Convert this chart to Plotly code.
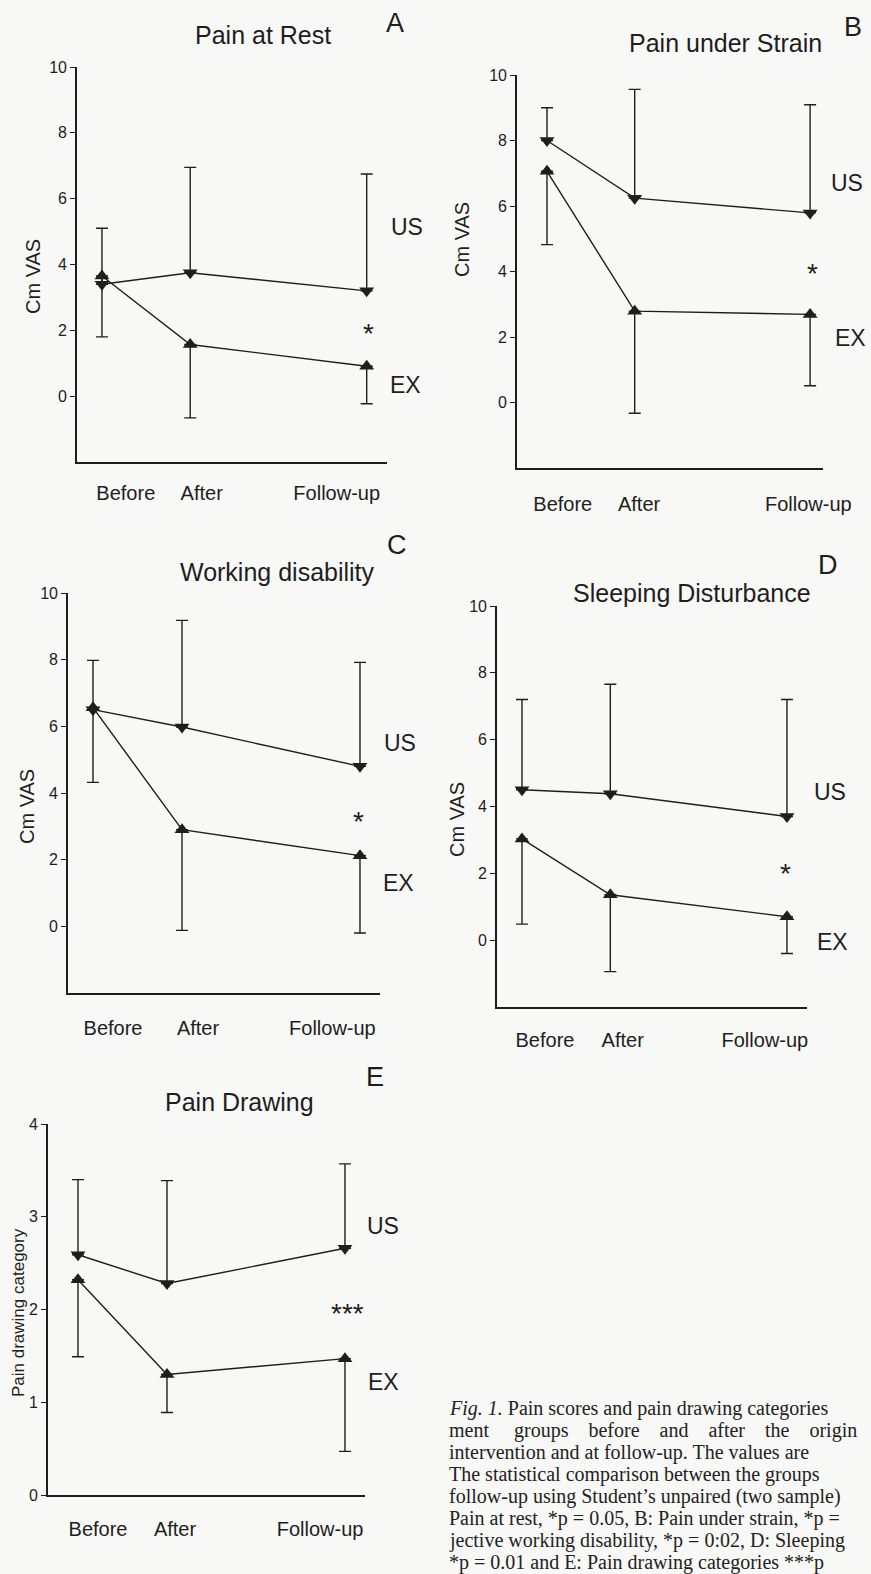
import plotly.graph_objects as go

W, H = 871, 1574

# ---------------- data ----------------
categories = ["Before", "After", "Follow-up"]
timepoints = [0, 1, 3]

# A: Pain at Rest
rest_us = [3.4, 3.75, 3.2]
rest_us_sd = [1.7, 3.2, 3.55]
rest_ex = [3.65, 1.57, 0.91]
rest_ex_sd = [1.85, 2.23, 1.14]

# B: Pain under Strain
strain_us = [8.0, 6.24, 5.79]
strain_us_sd = [1.0, 3.32, 3.3]
strain_ex = [7.06, 2.79, 2.69]
strain_ex_sd = [2.24, 3.12, 2.18]

# C: Working disability
work_us = [6.5, 5.98, 4.8]
work_us_sd = [1.48, 3.2, 3.12]
work_ex = [6.56, 2.9, 2.12]
work_ex_sd = [2.24, 3.02, 2.32]

# D: Sleeping Disturbance
sleep_us = [4.5, 4.38, 3.7]
sleep_us_sd = [2.7, 3.28, 3.5]
sleep_ex = [3.03, 1.36, 0.7]
sleep_ex_sd = [2.55, 2.3, 1.1]

# E: Pain Drawing
draw_us = [2.59, 2.28, 2.66]
draw_us_sd = [0.81, 1.11, 0.91]
draw_ex = [2.32, 1.30, 1.47]
draw_ex_sd = [0.83, 0.41, 1.0]

panel_titles = ["Pain at Rest", "Pain under Strain", "Working disability",
                "Sleeping Disturbance", "Pain Drawing"]
panel_letters = ["A", "B", "C", "D", "E"]
y_titles = ["Cm VAS", "Cm VAS", "Cm VAS", "Cm VAS", "Pain drawing category"]
significance = ["*", "*", "*", "*", "***"]
group_labels = ["US", "EX"]
vas_ticks = [0, 2, 4, 6, 8, 10]
drawing_ticks = [0, 1, 2, 3, 4]

NB = "\u00a0"
caption_lines = [
    "<i>Fig. 1.</i> Pain scores and pain drawing categories",
    ("ment" + NB * 4 + " groups" + NB * 3 + " before" + NB * 3 + " and" + NB * 3
     + " after" + NB * 3 + " the" + NB * 3 + " origin"),
    "intervention and at follow-up. The values are",
    "The statistical comparison between the groups",
    "follow-up using Student\u2019s unpaired (two sample)",
    "Pain at rest, *p = 0.05, B: Pain under strain, *p =",
    "jective working disability, *p = 0:02, D: Sleeping",
    "*p = 0.01 and E: Pain drawing categories ***p",
]

series = [
    (rest_us, rest_us_sd, rest_ex, rest_ex_sd),
    (strain_us, strain_us_sd, strain_ex, strain_ex_sd),
    (work_us, work_us_sd, work_ex, work_ex_sd),
    (sleep_us, sleep_us_sd, sleep_ex, sleep_ex_sd),
    (draw_us, draw_us_sd, draw_ex, draw_ex_sd),
]

# ---------------- layout geometry (pixels) ----------------
geom = [
    dict(box=(77, 387, 67, 462), xr=(-0.283, 3.23), yr=(-2, 10), ticks=vas_ticks,
         xlab=(0.27, 1.13, 2.66), off=25, title=(263, 35), letter=(395, 23),
         us=(407, 227), ex=(405, 385), sig=(368, 327), ytitle=(33, 277), ysize=20),
    dict(box=(517, 823, 75, 468), xr=(-0.342, 3.147), yr=(-2, 10), ticks=vas_ticks,
         xlab=(0.18, 1.05, 2.98), off=30, title=(725, 43), letter=(853, 27),
         us=(847, 183), ex=(850, 338), sig=(812, 267), ytitle=(462, 240), ysize=20),
    dict(box=(68, 380, 593, 993), xr=(-0.281, 3.225), yr=(-2, 10), ticks=vas_ticks,
         xlab=(0.225, 1.18, 2.69), off=29, title=(277, 572), letter=(397, 545),
         us=(400, 743), ex=(398, 883), sig=(358, 815), ytitle=(27, 807), ysize=20),
    dict(box=(497, 807, 606, 1007), xr=(-0.283, 3.227), yr=(-2, 10), ticks=vas_ticks,
         xlab=(0.26, 1.14, 2.75), off=27, title=(692, 593), letter=(828, 565),
         us=(830, 792), ex=(832, 942), sig=(785, 867), ytitle=(457, 820), ysize=20),
    dict(box=(48, 365, 1124, 1495), xr=(-0.337, 3.225), yr=(0, 4), ticks=drawing_ticks,
         xlab=(0.225, 1.09, 2.72), off=28, title=(240, 1102), letter=(375, 1077),
         us=(383, 1226), ex=(383, 1382), sig=(347, 1307), ytitle=(18, 1313), ysize=17),
]


def px(x):
    return x / W


def py(y):
    return 1 - y / H


INK = "#1e1e1e"
FONT = "Arial, Liberation Sans, sans-serif"
SERIF = "Times New Roman, Liberation Serif, serif"

fig = go.Figure()
annotations = []
layout = {}

for i, (g, (us, us_sd, ex, ex_sd)) in enumerate(zip(geom, series)):
    n = "" if i == 0 else str(i + 1)
    xa, ya = "x" + n, "y" + n
    x0, x1, yt, yb = g["box"]

    fig.add_trace(go.Scatter(
        x=timepoints, y=us, xaxis=xa, yaxis=ya, mode="lines+markers",
        line=dict(color=INK, width=1.4),
        marker=dict(symbol="triangle-down", size=13, color=INK),
        error_y=dict(type="data", symmetric=False, array=us_sd,
                     arrayminus=[0] * len(us_sd), color=INK, thickness=1.4, width=6),
        showlegend=False, hoverinfo="skip"))
    fig.add_trace(go.Scatter(
        x=timepoints, y=ex, xaxis=xa, yaxis=ya, mode="lines+markers",
        line=dict(color=INK, width=1.4),
        marker=dict(symbol="triangle-up", size=13, color=INK),
        error_y=dict(type="data", symmetric=False, array=[0] * len(ex_sd),
                     arrayminus=ex_sd, color=INK, thickness=1.4, width=6),
        showlegend=False, hoverinfo="skip"))

    layout["xaxis" + n] = dict(
        domain=[px(x0), px(x1)], range=list(g["xr"]), anchor=ya, automargin=False,
        showline=True, linecolor=INK, linewidth=1.6, showgrid=False, zeroline=False,
        ticks="", tickvals=list(g["xlab"]), ticktext=categories,
        tickfont=dict(family=FONT, size=20, color=INK),
        ticklabelstandoff=g["off"] - 13, fixedrange=True)
    layout["yaxis" + n] = dict(
        domain=[py(yb), py(yt)], range=list(g["yr"]), anchor=xa, automargin=False,
        showline=True, linecolor=INK, linewidth=1.6, showgrid=False, zeroline=False,
        ticks="outside", ticklen=5, tickwidth=1.4, tickcolor=INK,
        tickvals=g["ticks"], tickfont=dict(family=FONT, size=16, color=INK),
        fixedrange=True)

    annotations += [
        dict(text=panel_titles[i], x=px(g["title"][0]), y=py(g["title"][1]),
             font=dict(family=FONT, size=25, color=INK)),
        dict(text=panel_letters[i], x=px(g["letter"][0]), y=py(g["letter"][1]),
             font=dict(family=FONT, size=27, color=INK)),
        dict(text=group_labels[0], x=px(g["us"][0]), y=py(g["us"][1]),
             font=dict(family=FONT, size=23, color=INK)),
        dict(text=group_labels[1], x=px(g["ex"][0]), y=py(g["ex"][1]),
             font=dict(family=FONT, size=23, color=INK)),
        dict(text=significance[i], x=px(g["sig"][0]), y=py(g["sig"][1] + 6),
             font=dict(family=FONT, size=28, color=INK)),
        dict(text=y_titles[i], x=px(g["ytitle"][0]), y=py(g["ytitle"][1]),
             textangle=-90, font=dict(family=FONT, size=g["ysize"], color=INK)),
    ]

for k, line in enumerate(caption_lines):
    annotations.append(dict(
        text=line, x=px(447), y=py(1408 + k * 22), xanchor="left",
        font=dict(family=SERIF, size=20, color="#222222")))

for a in annotations:
    a.setdefault("xref", "paper")
    a.setdefault("yref", "paper")
    a.setdefault("showarrow", False)
    a.setdefault("xanchor", "center")
    a.setdefault("yanchor", "middle")

fig.update_layout(
    width=W, height=H, margin=dict(l=0, r=0, t=0, b=0, pad=0, autoexpand=False),
    paper_bgcolor="#f8f8f6", plot_bgcolor="#f8f8f6",
    annotations=annotations, **layout)

fig.write_html(
    "out.html", config={"displayModeBar": False, "responsive": False},
    post_script=(
        "var s=document.documentElement.style, b=document.body.style;"
        "s.margin='0';s.padding='0';s.overflow='hidden';"
        "b.margin='0';b.padding='0';b.overflow='hidden';"
        "var d=document.getElementById('{plot_id}');"
        "d.style.position='fixed';d.style.left='0px';d.style.top='0px';"))
